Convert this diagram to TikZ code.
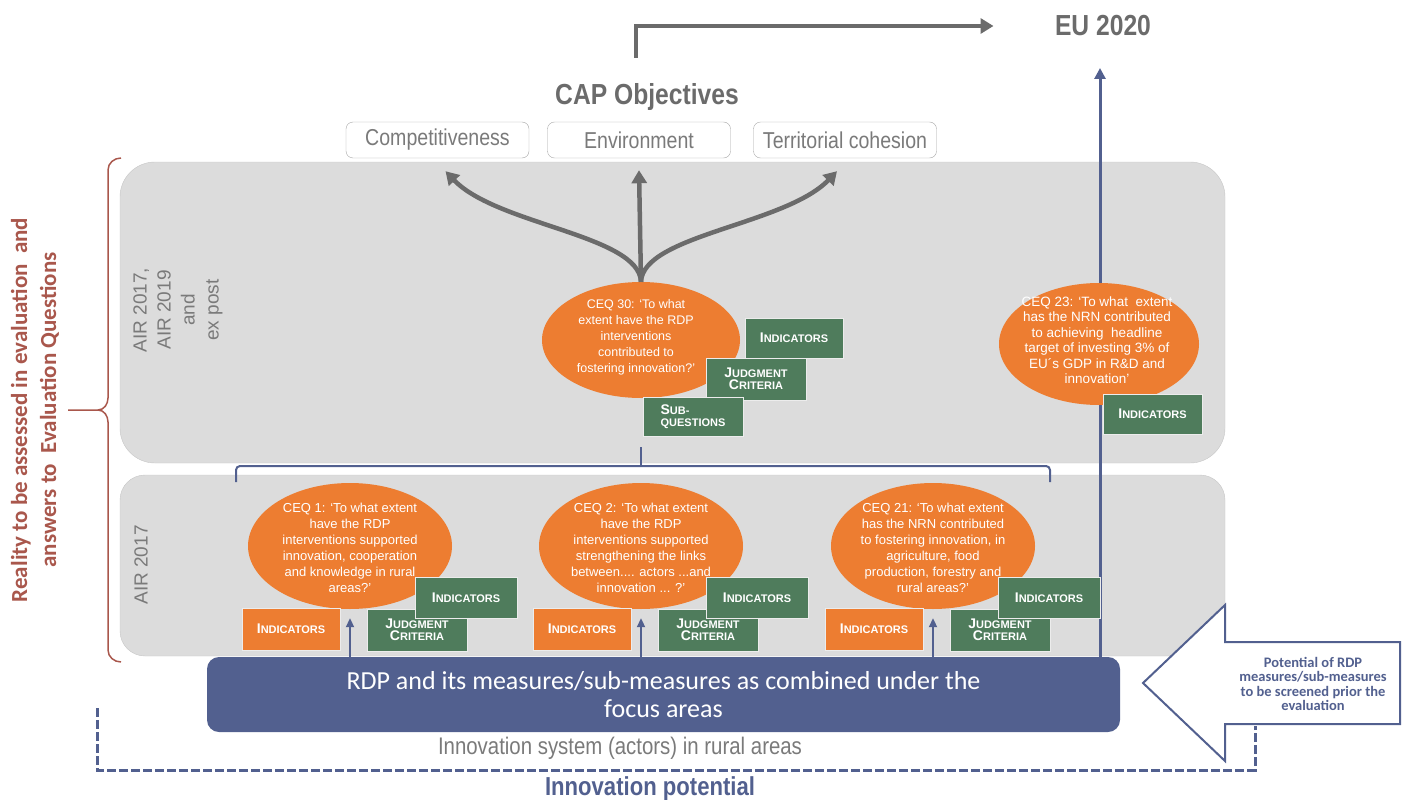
\documentclass[tikz,border=0pt]{standalone}
\usepackage{fontspec}
\setmainfont{Liberation Sans}
\newfontfamily\narrowfont[FakeStretch=0.85]{Liberation Sans}
\newfontfamily\calibrifont{Carlito}
\usetikzlibrary{shapes.geometric,arrows.meta}

\definecolor{panelgray}{HTML}{DCDCDC}
\definecolor{paneledge}{HTML}{C6C6C6}
\definecolor{ceqorange}{HTML}{ED7D31}
\definecolor{critgreen}{HTML}{4F7C5C}
\definecolor{rdpblue}{HTML}{52608F}
\definecolor{textgray}{HTML}{7A7A7A}
\definecolor{arrowgray}{HTML}{6B6B6B}
\definecolor{bracered}{HTML}{A9574C}

\newcommand{\capword}[2]{{\fontsize{14}{13}\selectfont #1}{\fontsize{11}{13}\selectfont #2}}

\begin{document}
\begin{tikzpicture}[x=1pt,y=-1pt,
   ceq/.style={ellipse, fill=ceqorange, inner sep=0pt},
   ceqtext/.style={text=white, align=center, inner sep=0pt, font=\fontsize{13}{16}\selectfont},
   greenbox/.style={fill=critgreen, draw=white!85!gray, text=white, font=\bfseries,
      align=center, minimum width=100pt, minimum height=42pt, inner sep=0pt},
   orangebox/.style={greenbox, fill=ceqorange},
   objbox/.style={draw=gray!70, fill=white, rounded corners=7pt, minimum width=183pt,
      minimum height=36pt, text=textgray, font=\narrowfont\fontsize{23}{23}\selectfont},
   flow/.style={line width=4.5pt, draw=arrowgray, -{Triangle[length=13pt,width=15pt]}},
   upflow/.style={line width=3pt, draw=rdpblue, -{Triangle[length=11pt,width=11pt]}},
   smallflow/.style={line width=2pt, draw=rdpblue, -{Triangle[length=9pt,width=8pt]}}]

   \useasboundingbox (0,0) rectangle (1403,800);

   \draw[draw=paneledge, fill=panelgray, rounded corners=35pt] (120,162) rectangle (1225,463);
   \draw[draw=paneledge, fill=panelgray, rounded corners=25pt] (120,475) rectangle (1225,656);

   \node[rotate=90, align=center, text=textgray,
      font=\fontsize{19}{24}\selectfont] (airall) at (178,310) {AIR 2017,\\AIR 2019\\and\\ex post};
   \node[rotate=90, text=textgray, font=\fontsize{19}{18}\selectfont] (airone) at (141,565) {AIR 2017};

   \node[rotate=90, align=center, text=bracered,
      font=\calibrifont\bfseries\fontsize{23}{29}\selectfont] (reality) at (35,410)
      {Reality to be assessed in evaluation\ \ and\\answers to\ \ Evaluation Questions};
   \draw[bracered, line width=1.5pt] (121,158) to[out=180,in=90] (108,170) -- (108,398)
      to[out=-90,in=0] (98,410) -- (68,410);
   \draw[bracered, line width=1.5pt] (98,410) to[out=0,in=90] (108,422) -- (108,650)
      to[out=-90,in=180] (121,662);

   \node[text=arrowgray, font=\narrowfont\bfseries\fontsize{29}{29}\selectfont] (eu) at (1103,26) {EU 2020};
   \node[text=arrowgray, font=\narrowfont\bfseries\fontsize{29}{29}\selectfont] (cap) at (647,97) {CAP Objectives};
   \node[objbox] (obj1) at (437.5,140) {Competitiveness};
   \node[objbox] (obj2) at (639,140) {Environment};
   \node[objbox] (obj3) at (845,140) {Territorial cohesion};

   \coordinate (capout) at (636,58);
   \draw[flow] (capout) |- ([xshift=-58pt]eu.west);

   \node[fill=rdpblue, rounded corners=12pt, minimum width=913pt, minimum height=75pt,
      text=white, align=center, font=\calibrifont\fontsize{26}{28}\selectfont] (rdp) at (663.5,694.5)
      {RDP and its measures/sub-measures as combined under the\\focus areas};

   \coordinate (euin) at (1100,68);
   \draw[upflow] (rdp.north -| euin) -- (euin);

   % upper panel
   \node[ceq, minimum width=198pt, minimum height=116pt] (ceq30) at (641,340) {};
   \node[ceqtext, font=\fontsize{12.5}{16}\selectfont] (ceqt30) at (636,337) {CEQ 30: ‘To what\\extent have the RDP\\interventions\\contributed to\\fostering innovation?’};
   \node[greenbox, minimum width=98pt, minimum height=40pt] (gi30) at (794,338) {\capword{I}{NDICATORS}};
   \node[greenbox] (jc30) at (756,379) {\capword{J}{UDGMENT}\\\capword{C}{RITERIA}};
   \node[greenbox, minimum height=39pt, align=left] (sq30) at (693,416.5) {\capword{S}{UB-}\\{\fontsize{11}{13}\selectfont QUESTIONS}};

   \draw[flow] (ceq30.north) -- ([yshift=-12pt]obj2.south);
   \draw[flow] (ceq30.north) .. controls (643,235) and (785,225) .. ([xshift=-8pt,yshift=-13pt]obj3.south);
   \draw[flow] (ceq30.north) .. controls (639,235) and (497,225) .. ([xshift=8pt,yshift=-13pt]obj1.south);

   \node[ceq, minimum width=200pt, minimum height=122pt] (ceq23) at (1099,344) {};
   \node[ceqtext, font=\fontsize{13.5}{15.5}\selectfont] (ceqt23) at (1097,340) {CEQ 23: ‘To what\ \ extent\\has the NRN contributed\\to achieving\ \ headline\\target of investing 3\% of\\EU´s GDP in R\&D and\\innovation’};
   \node[greenbox, minimum width=99pt, minimum height=40pt] (gi23) at (1152.5,414) {\capword{I}{NDICATORS}};

   % lower panel
   \foreach \n/\x/\q in {1/350/{CEQ 1: ‘To what extent\\have the RDP\\interventions supported\\innovation, cooperation\\and knowledge in rural\\areas?’},
         2/641/{CEQ 2: ‘To what extent\\have the RDP\\interventions supported\\strengthening the links\\between.... actors ...and\\innovation ... ?’},
         21/933/{CEQ 21: ‘To what extent\\has the NRN contributed\\to fostering innovation,\ in\\agriculture, food\\production, forestry and\\rural areas?’}}
   {
   \node[ceq, minimum width=204pt, minimum height=126pt] (ceq\n) at (\x,546) {};
   \node[ceqtext] (ceqt\n) at (\x,548) {\q};
   \node[orangebox, minimum width=98pt] (ind\n) at (\x-59,629) {\capword{I}{NDICATORS}};
   \node[greenbox] (jc\n) at (\x+67,630) {\capword{J}{UDGMENT}\\\capword{C}{RITERIA}};
   \node[greenbox, minimum width=102pt, minimum height=41pt] (gi\n) at (\x+116,597.5) {\capword{I}{NDICATORS}};
   \draw[smallflow] (rdp.north -| ceq\n) -- ([yshift=-9pt]ceq\n.south);
   }

   \draw[rdpblue, line width=2pt, rounded corners=4pt] (236,482) |- (1050,466) -- (1050,482);
   \draw[rdpblue, line width=2pt] (641,466) -- (641,447);

   \draw[rdpblue, line width=2pt, fill=white] (1400,642) -- (1225,642) -- (1225,605) -- (1143,683)
      -- (1225,761) -- (1225,724) -- (1400,724) -- cycle;
   \node[text=rdpblue, align=center, font=\calibrifont\bfseries\fontsize{14.5}{14.5}\selectfont] (screen) at (1313,684)
      {Potential of RDP\\measures/sub-measures\\to be screened prior the\\evaluation};

   \node[text=textgray, font=\narrowfont\fontsize{24}{24}\selectfont] (insys) at (620,748) {Innovation system (actors) in rural areas};
   \draw[rdpblue, line width=3pt, dash pattern=on 9pt off 3pt] (97,708) |- (1255,770) -- (1255,726);
   \node[text=rdpblue, font=\narrowfont\bfseries\fontsize{26}{26}\selectfont] (innopot) at (650,789) {Innovation potential};

\end{tikzpicture}
\end{document}
